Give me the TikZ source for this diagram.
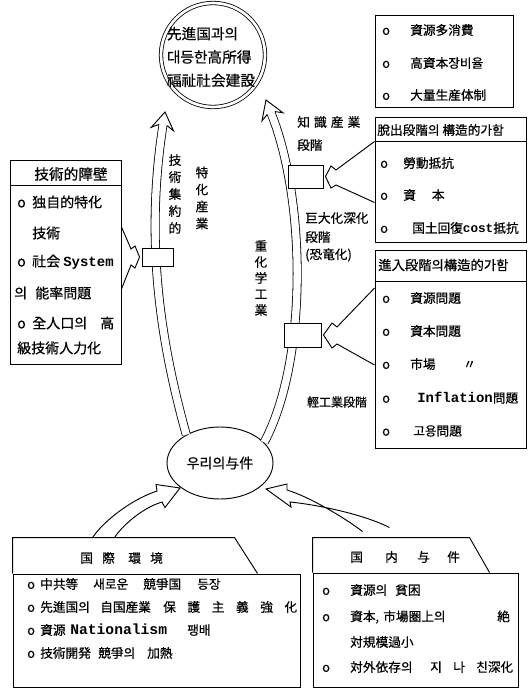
\documentclass[tikz,border=0pt]{standalone}
\usepackage{fontspec}
\setmainfont{Noto Sans CJK KR}[FakeBold=0.6]
\newfontfamily\latf{Liberation Mono}
\usetikzlibrary{calc,shapes.geometric}
\newlength\px
\setlength\px{0.75pt}
\newcommand\gr[2]{\makebox[#1\px][l]{#2}}
\newcommand\lw[1]{{\latf\bfseries #1}}
\newcommand\hf{\hfill{}}
\tikzset{
  ln/.style={line width=0.7pt},
  framebox/.style={draw, line width=0.7pt, inner sep=0pt},
  slot/.style={draw, line width=0.7pt, fill=white, inner sep=0pt},
  chan/.style={line width=0.6pt, double=white, double distance=5.5pt},
  txt/.style={inner sep=0pt, font=\fontsize{9.5}{11}\selectfont},
  row/.style={txt, anchor=west},
  rowb/.style={row, font=\fontsize{10.5}{12}\selectfont},
  vert/.style={inner sep=0pt, align=center, font=\fontsize{9.5}{12.75}\selectfont},
}
\begin{document}
\begin{tikzpicture}[x=0.75pt, y=-0.75pt]
\useasboundingbox (0,0) rectangle (528,696);

% goal circle (top)
\node[circle, draw, line width=0.6pt, double, double distance=2pt, minimum size=104*0.75pt, inner sep=0pt] (goal) at (213,55) {};
\node[txt, font=\fontsize{11}{17.5}\selectfont, align=left] (goalt) at (211,57) {先進国과의\\대등한高所得\\福祉社会建設};

% base ellipse (bottom)
\node[ellipse, draw, ln, minimum width=106*0.75pt, minimum height=72*0.75pt, inner sep=0pt, font=\fontsize{10.5}{12}\selectfont] (base) at (220,463) {우리의与件};

% channels
\coordinate (lhb) at (163,125); \coordinate (lht) at (165,112);
\coordinate (rhb) at (271,113); \coordinate (rht) at (266,100);
\draw[chan] (base.140) .. controls (160,340) and (145,240) .. (lhb);
\draw[chan] (base.25) .. controls (308,360) and (306,200) .. (rhb);
\draw[ln, fill=white] ($(lhb)!3.05pt!90:(lht)$) -- ($(lhb)!9pt!110:(lht)$) -- (lht) -- ($(lhb)!9pt!-110:(lht)$) -- ($(lhb)!3.05pt!-90:(lht)$);
\draw[ln, fill=white] ($(rhb)!3.05pt!90:(rht)$) -- ($(rhb)!9pt!110:(rht)$) -- (rht) -- ($(rhb)!9pt!-110:(rht)$) -- ($(rhb)!3.05pt!-90:(rht)$);

% slots on channels
\node[slot, minimum width=31*0.75pt, minimum height=18*0.75pt] (sl) at (157.5,257) {};
\node[slot, minimum width=35*0.75pt, minimum height=23*0.75pt] (su) at (305.5,176.5) {};
\node[slot, minimum width=37*0.75pt, minimum height=24*0.75pt] (sd) at (302.5,335) {};

% right column boxes
\node[framebox, minimum width=138*0.75pt, minimum height=92*0.75pt] (tr) at (444,61) {};
\node[framebox, minimum width=151*0.75pt, minimum height=125*0.75pt] (xo) at (450.5,179.5) {};
\draw[ln] ($(xo.north west)+(0,25)$) -- ($(xo.north east)+(0,25)$);
\node[framebox, minimum width=151*0.75pt, minimum height=198*0.75pt] (jn) at (450.5,349) {};
\draw[ln] ($(jn.north west)+(0,32)$) -- ($(jn.north east)+(0,32)$);

% left box
\node[framebox, minimum width=111*0.75pt, minimum height=204*0.75pt] (tb) at (65.5,262) {};
\draw[ln] ($(tb.north west)+(0,26)$) -- ($(tb.north east)+(0,26)$);

% bottom boxes
\node[framebox, minimum width=287*0.75pt, minimum height=113*0.75pt] (gk) at (156.5,630.5) {};
\draw[ln] (gk.north west) -- ++(0,-36) -- ++(222,0) -- ($(gk.north west)+(245,0)$);
\node[framebox, minimum width=205*0.75pt, minimum height=114*0.75pt] (nd) at (415.5,630) {};
\draw[ln] (nd.north west) -- ++(0,-35) -- ++(157,0) -- ($(nd.north west)+(177,0)$);

% bottom hollow arrows into base
\coordinate (gka) at ($(gk.north west)+(80,-36)$);
\coordinate (gkb) at ($(gk.north west)+(102,-36)$);
\coordinate (tipL) at (180,488);
\draw[ln] (gka) .. controls (103,522) and (130,500) .. (157,491) -- (156,484.5) -- (tipL) -- (165,507.5) -- (162,502) .. controls (142,508) and (122,526) .. (gkb);
\coordinate (nda) at ($(nd.north west)+(50,-41)$);
\coordinate (ndb) at ($(nd.north west)+(77,-45)$);
\coordinate (tipR) at (266,489);
\draw[ln] (nda) .. controls (345,518) and (310,497) .. (287,490) -- (287,484) -- (tipR) -- (291,507) -- (290,502) .. controls (320,505) and (365,515) .. (ndb);

% side arrows into slots
\coordinate (ut) at ($(su.east)+(2,0)$);
\draw[ln] ($(xo.west)+(0,-38)$) -- (336,170) -- (331,166) -- (ut) -- (331,188) -- (336,185) -- ($(xo.west)+(0,23)$);
\coordinate (dt) at ($(sd.east)+(2,0)$);
\draw[ln] ($(jn.west)+(0,-61)$) -- (337,327) -- (332,323) -- (dt) -- (332,348) -- (337,344) -- ($(jn.west)+(0,16)$);
\coordinate (lt) at ($(sl.west)+(-2,0)$);
\draw[ln] ($(tb.east)+(0,-35)$) -- (131,249) -- (135,246) -- (lt) -- (135,268) -- (131,265) -- ($(tb.east)+(0,27)$);

% right column texts
\node[row] (tr1) at (382,30) {\gr{28}{o}資源多消費};
\node[row] (tr2) at (382,63) {\gr{28}{o}高資本장비율};
\node[row] (tr3) at (382,95) {\gr{28}{o}大量生産体制};
\node[row] (xoh) at (377,130) {脫出段階의 構造的가함};
\node[row] (xo1) at (380,163) {\gr{23}{o}勞動抵抗};
\node[row] (xo2) at (380,195) {\gr{23}{o}資\hspace{16\px}本};
\node[row] (xo3) at (380,228) {\gr{32}{o}国土回復\lw{cost}抵抗};
\node[row, font=\fontsize{10}{11}\selectfont] (jnh) at (378,265) {進入段階의構造的가함};
\node[row] (jn1) at (382,298) {\gr{28}{o}資源問題};
\node[row] (jn2) at (382,331) {\gr{28}{o}資本問題};
\node[row] (jn3) at (382,364) {\gr{28}{o}\gr{53}{市場}〃};
\node[row] (jn4) at (382,398) {\gr{35}{o}{\latf\bfseries\fontsize{10.5}{11}\selectfont Inflation}問題};
\node[row] (jn5) at (382,431) {\gr{31}{o}고용問題};

% left box texts
\node[txt, font=\fontsize{11}{12}\selectfont] (tbh) at (71,174) {技術的障壁};
\node[rowb] (tb1) at (17,202) {\gr{15}{o}独自的特化};
\node[rowb] (tb2) at (32,233) {技術};
\node[rowb] (tb3) at (17,262) {\gr{15}{o}\gr{31}{社会}\lw{System}};
\node[rowb] (tb4) at (14,293) {\gr{21}{의}能率問題};
\node[rowb] (tb5) at (17,323) {\gr{15}{o}\gr{68}{全人口의}高};
\node[rowb] (tb6) at (17,348) {級技術人力化};

% labels along the channels
\node[vert] (v1) at (175,194) {技\\術\\集\\約\\的};
\node[vert] (v2) at (202,198) {特\\化\\産\\業};
\node[vert, font=\fontsize{9.5}{12}\selectfont] (v3) at (261,278) {重\\化\\学\\工\\業};
\node[row] (kn1) at (297,122) {\gr{63}{知\hf 識\hf 産\hf 業}};
\node[row] (kn2) at (297,145) {段階};
\node[row] (gd1) at (305,218) {巨大化深化};
\node[row] (gd2) at (305,237) {段階};
\node[row] (gd3) at (305,255) {(恐竜化)};
\node[txt, font=\fontsize{9}{10}\selectfont] (kg) at (337,402) {輕工業段階};

% bottom-left texts
\node[row] (gkh) at (80,558) {\gr{22}{国}\gr{26}{際}\gr{22}{環}境};
\node[row] (gk1) at (27,584) {\gr{13}{o}\gr{53}{中共等}\gr{50}{새로운}\gr{54}{競爭国}등장};
\node[row] (gk2) at (27,607) {\gr{13}{o}\gr{60}{先進国의}\gr{63}{自国産業}\gr{134}{保\hf 護\hf 主\hf 義\hf 強\hf 化}};
\node[row] (gk3) at (27,630) {\gr{13}{o}\gr{30}{資源}\gr{117}{\latf\bfseries\fontsize{11}{11}\selectfont Nationalism}팽배};
\node[row] (gk4) at (27,653) {\gr{13}{o}\gr{58}{技術開発}\gr{49}{競爭의}加熱};

% bottom-right texts
\node[row] (ndh) at (350,557) {\gr{35}{国}\gr{32}{内}\gr{30}{与}件};
\node[row] (nd1) at (322,590) {\gr{28}{o}\gr{45}{資源의}貧困};
\node[row] (nd2) at (322,617) {\gr{28}{o}\gr{33}{資本,}\gr{114}{市場圏上의}絶};
\node[row] (nd3) at (350,642) {対規模過小};
\node[row] (nd4) at (322,667) {\gr{28}{o}\gr{80}{対外依存의}\gr{83}{지\hf 나\hf 친深化}};
\end{tikzpicture}
\end{document}
